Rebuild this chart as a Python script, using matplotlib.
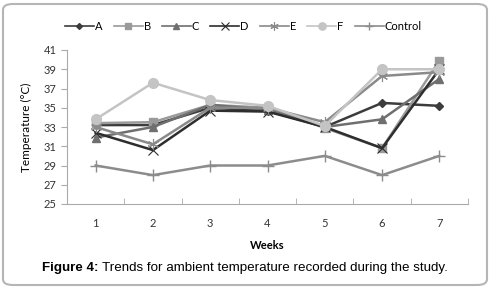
import numpy as np
import matplotlib.pyplot as plt
from matplotlib.patches import FancyBboxPatch

weeks = [1, 2, 3, 4, 5, 6, 7]
series_names = ['A', 'B', 'C', 'D', 'E', 'F', 'Control']
temp_a = [33.2, 33.2, 35.0, 34.7, 33.0, 35.5, 35.2]
temp_b = [33.4, 33.5, 35.3, 35.0, 32.9, 30.8, 39.9]
temp_c = [31.9, 33.0, 35.3, 34.8, 33.0, 33.8, 38.0]
temp_d = [32.4, 30.6, 34.7, 34.6, 33.0, 30.8, 39.0]
temp_e = [33.0, 31.2, 35.0, 35.0, 33.5, 38.3, 38.7]
temp_f = [33.8, 37.6, 35.8, 35.2, 33.1, 39.0, 39.0]
temp_control = [29, 28, 29, 29, 30, 28, 30]
yticks = [25, 27, 29, 31, 33, 35, 37, 39, 41]

series = [temp_a, temp_b, temp_c, temp_d, temp_e, temp_f, temp_control]
styles = [
    dict(color='#3c3c3c', marker='D', ms=4),
    dict(color='#9a9a9a', marker='s', ms=6),
    dict(color='#6f6f6f', marker='^', ms=6),
    dict(color='#2e2e2e', marker='x', ms=7, mew=0.8),
    dict(color='#8a8a8a', marker=(6, 2, 0), ms=8, mew=0.8),
    dict(color='#c4c4c4', marker='o', ms=7),
    dict(color='#8c8c8c', marker='+', ms=8, mew=1),
]

plt.rcParams['font.family'] = ['Lato', 'DejaVu Sans']

fig = plt.figure(figsize=(4.91, 2.89), dpi=100)
ax = fig.add_axes([67 / 491, 1 - 204 / 289, 401 / 491, 154 / 289])

for vals, name, st in zip(series, series_names, styles):
    ax.plot(weeks, vals, lw=1.8, label=name, **st)

ax.set_xlim(0.5, 7.5)
ax.set_ylim(25, 41)
ax.set_yticks(yticks)
ax.set_xticks(weeks)
ax.set_xticks(np.arange(0.5, 8, 1), minor=True)
ax.tick_params(axis='x', which='major', length=0, pad=10, labelsize=8)
ax.tick_params(axis='x', which='minor', length=4, color='#aaaaaa', direction='in')
ax.tick_params(axis='y', length=4, color='#aaaaaa', direction='out', labelsize=8,
               colors='#333333')
ax.tick_params(axis='x', colors='#333333')
for s in ['top', 'right']:
    ax.spines[s].set_visible(False)
for s in ['left', 'bottom']:
    ax.spines[s].set_color('#aaaaaa')
ax.set_xlabel('Weeks', fontsize=8, fontweight='bold', labelpad=8)
ax.set_ylabel('Temperature (°C)', fontsize=8.5, labelpad=8)

leg = ax.legend(loc='lower center', bbox_to_anchor=(0.44, 1.05), ncol=7,
                frameon=False, fontsize=8, handlelength=2.6, handletextpad=0.1,
                columnspacing=1.0, markerscale=0.75)
for h in leg.get_lines():
    h.set_linewidth(1.2)

y_cap = 1 - 268 / 289
t1 = fig.text(42 / 491, y_cap, 'Figure 4:', fontsize=9.6, fontweight='bold',
              family='Liberation Sans', va='center')
fig.canvas.draw()
bb = t1.get_window_extent()
fig.text((bb.x1 + 3) / 491, y_cap,
         'Trends for ambient temperature recorded during the study.',
         fontsize=9.6, family='Liberation Sans', va='center')

frame = FancyBboxPatch((3 / 491, 4 / 289), 484 / 491, 281 / 289,
                       boxstyle='round,pad=0,rounding_size=0.02',
                       transform=fig.transFigure, fill=False,
                       ec='#b5b5b5', lw=1.5)
fig.patches.append(frame)

fig.savefig('out.png', dpi=100)
